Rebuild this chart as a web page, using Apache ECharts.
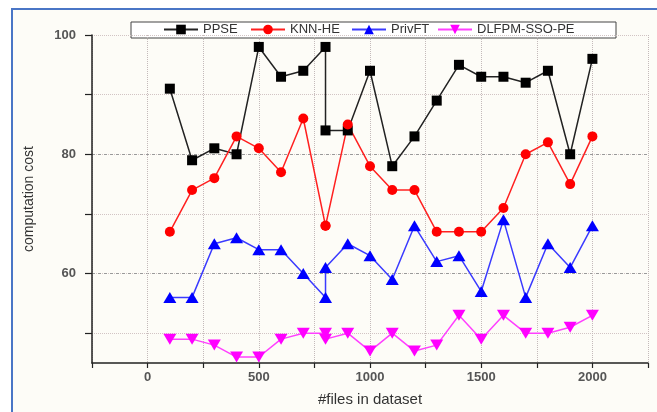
<!DOCTYPE html>
<html>
<head>
<meta charset="utf-8">
<script src="https://cdn.jsdelivr.net/npm/echarts@6/dist/echarts.min.js"></script>
<style>
  html, body { margin: 0; padding: 0; background: #ffffff; }
  #frame {
    position: absolute; left: 11px; top: 8px; width: 660px; height: 420px;
    border-top: 2px solid #4a76c6; border-left: 2px solid #4a76c6;
    background: #fdfcf7;
  }
  #chart { position: absolute; left: 0; top: 0; width: 657px; height: 412px; }
</style>
</head>
<body>
<div id="frame"></div>
<div id="chart"></div>
<script>
// x = number of files (800 appears twice in the source figure)
var xValues = [100, 200, 300, 400, 500, 600, 700, 800, 800, 900, 1000,
  1100, 1200, 1300, 1400, 1500, 1600, 1700, 1800, 1900, 2000];
var ppse = [91, 79, 81, 80, 98, 93, 94, 98, 84, 84, 94, 78, 83, 89, 95, 93, 93, 92, 94, 80, 96];
var knnHe = [67, 74, 76, 83, 81, 77, 86, 68, 68, 85, 78, 74, 74, 67, 67, 67, 71, 80, 82, 75, 83];
var privFt = [56, 56, 65, 66, 64, 64, 60, 56, 61, 65, 63, 59, 68, 62, 63, 57, 69, 56, 65, 61, 68];
var dlfpm = [49, 49, 48, 46, 46, 49, 50, 50, 49, 50, 47, 50, 47, 48, 53, 49, 53, 50, 50, 51, 53];

var seriesNames = ["PPSE", "KNN-HE", "PrivFT", "DLFPM-SSO-PE"];
var yTickValues = [50, 60, 70, 80, 90, 100];
var yLabelValues = [60, 80, 100];
var yMajorGrid = [60, 80];

function pairs(arr) {
  return xValues.map(function (x, i) { return [x, arr[i]]; });
}

var chart = echarts.init(document.getElementById("chart"));

var legendLeft = [163, 250, 351, 437];
var legends = seriesNames.map(function (name, i) {
  return {
    data: [name],
    left: legendLeft[i],
    top: 23,
    padding: 0,
    itemWidth: 34,
    itemHeight: 12,
    itemGap: 4,
    textStyle: { fontSize: 13, fontFamily: "Arial", color: "#333" }
  };
});

chart.setOption({
  animation: false,
  backgroundColor: "transparent",
  graphic: [
    {
      type: "rect",
      z: 0,
      shape: { x: 131, y: 22, width: 485, height: 16 },
      style: { fill: "#ffffff", stroke: "#444", lineWidth: 1 }
    }
  ],
  legend: legends,
  grid: { left: 92, right: 9, top: 35, bottom: 48 },
  xAxis: {
    type: "value",
    min: -250,
    max: 2250,
    interval: 250,
    name: "#files in dataset",
    nameLocation: "middle",
    nameGap: 29,
    nameTextStyle: { fontSize: 15, fontFamily: "Arial", color: "#333" },
    axisLine: { onZero: false, lineStyle: { color: "#222", width: 1.5 } },
    axisTick: { length: 5, lineStyle: { color: "#222", width: 1.2 } },
    axisLabel: {
      margin: 8,
      fontSize: 13,
      fontWeight: "bold",
      fontFamily: "Arial",
      color: "#555",
      formatter: function (v) { return v >= 0 && v % 500 === 0 ? v : ""; }
    },
    splitLine: { show: true, lineStyle: { color: "#c4baba", type: "dotted", width: 1 } }
  },
  yAxis: [
    {
      type: "value",
      min: 45,
      max: 100,
      name: "computation cost",
      nameLocation: "middle",
      nameGap: 56,
      nameTextStyle: { fontSize: 14, fontFamily: "Arial", color: "#333" },
      axisLine: { show: true, onZero: false, lineStyle: { color: "#222", width: 1.5 } },
      axisTick: { show: true, length: 7, customValues: yTickValues, lineStyle: { color: "#222", width: 1.2 } },
      axisLabel: {
        margin: 16,
        fontSize: 13,
        fontWeight: "bold",
        fontFamily: "Arial",
        color: "#555",
        customValues: yLabelValues
      },
      splitLine: { show: true, lineStyle: { color: "#d2c4c4", type: "dotted", width: 1 } }
    },
    {
      type: "value",
      min: 45,
      max: 100,
      position: "left",
      axisLine: { show: false, onZero: false },
      axisTick: { show: false, customValues: yMajorGrid },
      axisLabel: { show: false, customValues: yMajorGrid },
      splitLine: { show: true, lineStyle: { color: "#9a9a9a", type: [3, 3], width: 1 } }
    }
  ],
  series: [
    {
      name: "PPSE",
      type: "line",
      data: pairs(ppse),
      symbol: "rect",
      symbolSize: 10,
      itemStyle: { color: "#000000" },
      lineStyle: { color: "#222222", width: 1.5 }
    },
    {
      name: "KNN-HE",
      type: "line",
      data: pairs(knnHe),
      symbol: "circle",
      symbolSize: 10,
      itemStyle: { color: "#ff0000" },
      lineStyle: { color: "#ff2020", width: 1.5 }
    },
    {
      name: "PrivFT",
      type: "line",
      data: pairs(privFt),
      symbol: "triangle",
      symbolSize: [13, 11],
      itemStyle: { color: "#0000ff" },
      lineStyle: { color: "#3a3aff", width: 1.5 }
    },
    {
      name: "DLFPM-SSO-PE",
      type: "line",
      data: pairs(dlfpm),
      symbol: "path://M0,0L2,0L1,1.7Z",
      symbolSize: [13, 11],
      itemStyle: { color: "#ff00ff" },
      lineStyle: { color: "#ff40ff", width: 1.5 }
    }
  ]
});
</script>
</body>
</html>
